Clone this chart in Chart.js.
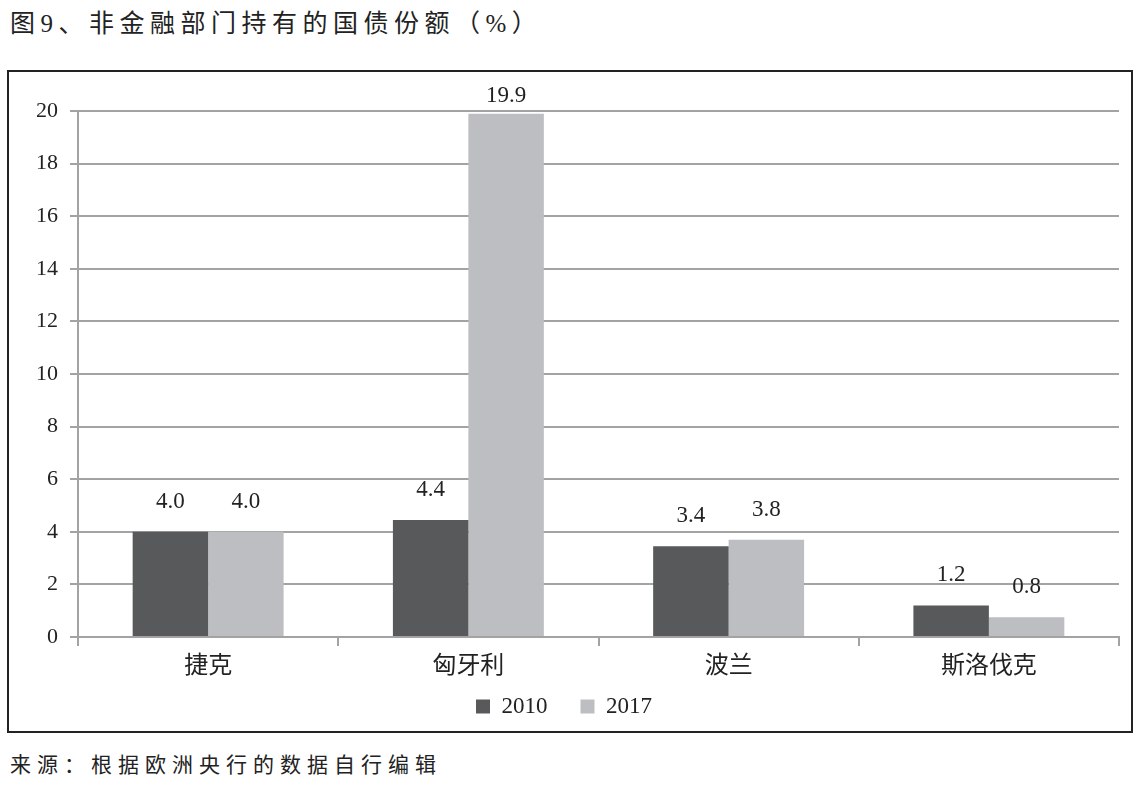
<!DOCTYPE html>
<html>
<head>
<meta charset="utf-8">
<script src="https://cdn.jsdelivr.net/npm/chart.js@4"></script>
<style>
  body { margin: 0; background: #fff; width: 1136px; height: 786px; position: relative;
         font-family: "Liberation Serif", "Noto Sans CJK SC", serif; color: #222; }
  #title { position: absolute; left: 10px; top: 3px; font-size: 25px; letter-spacing: 5.5px; }
  #box { position: absolute; left: 7px; top: 70px; width: 1122px; height: 659px; border: 2px solid #222; }
  #chart-wrap { position: absolute; left: 0; top: 0; width: 1122px; height: 659px; }
  #source { position: absolute; left: 10px; top: 748px; font-size: 21px; letter-spacing: 6px; }
</style>
</head>
<body>
<div id="title">图9、非金融部门持有的国债份额（%）</div>
<div id="box"><div id="chart-wrap"><canvas id="chart"></canvas></div></div>
<div id="source">来源：根据欧洲央行的数据自行编辑</div>
<script>
const countries = ["捷克", "匈牙利", "波兰", "斯洛伐克"];
const values2010 = [4.0, 4.45, 3.45, 1.2];
const values2017 = [4.0, 19.9, 3.7, 0.75];
const labels2010 = ["4.0", "4.4", "3.4", "1.2"];
const labels2017 = ["4.0", "19.9", "3.8", "0.8"];
const yTicks = [0, 2, 4, 6, 8, 10, 12, 14, 16, 18, 20];

const fontFamily = '"Liberation Serif", "Noto Sans CJK SC", serif';
const gridColor = "#a3a3a3";

const barLabels = {
    id: "barLabels",
    afterDatasetsDraw(chart) {
        const ctx = chart.ctx;
        const texts = [labels2010, labels2017];
        ctx.save();
        ctx.font = "23px " + fontFamily;
        ctx.fillStyle = "#222";
        ctx.textAlign = "center";
        ctx.textBaseline = "middle";
        chart.data.datasets.forEach((ds, di) => {
            const meta = chart.getDatasetMeta(di);
            meta.data.forEach((bar, i) => {
                const y = Math.max(bar.y - 30, chart.chartArea.top - 15);
                ctx.fillText(texts[di][i], bar.x, y);
            });
        });
        ctx.restore();
    }
};

const chart = new Chart(document.getElementById("chart"), {
    type: "bar",
    data: {
        labels: countries,
        datasets: [
            { label: "2010", data: values2010, backgroundColor: "#58595b" },
            { label: "2017", data: values2017, backgroundColor: "#bdbec1" }
        ]
    },
    options: {
        responsive: true,
        maintainAspectRatio: false,
        animation: false,
        devicePixelRatio: 1,
        datasets: { bar: { categoryPercentage: 0.58, barPercentage: 1.0 } },
        layout: { padding: { top: 39, right: 12, bottom: 3, left: 0 } },
        scales: {
            x: {
                grid: { drawOnChartArea: false, color: gridColor, lineWidth: 2, tickLength: 9, offset: true },
                border: { color: gridColor, width: 2 },
                ticks: { color: "#222", font: { size: 24, family: fontFamily }, padding: 6 },
                afterFit: (scale) => { scale.height = 48; }
            },
            y: {
                min: 0,
                max: 20,
                afterBuildTicks: (scale) => { scale.ticks = yTicks.map(v => ({ value: v })); },
                grid: { color: gridColor, lineWidth: 2, tickLength: 8 },
                border: { color: gridColor, width: 2 },
                ticks: { color: "#222", font: { size: 22, family: fontFamily }, padding: 12 },
                afterFit: (scale) => { scale.width = 69; }
            }
        },
        plugins: {
            legend: {
                position: "bottom",
                labels: {
                    color: "#222",
                    font: { size: 23, family: fontFamily },
                    boxWidth: 14,
                    boxHeight: 14,
                    padding: 10,
                    generateLabels: (chart) => {
                        const items = Chart.defaults.plugins.legend.labels.generateLabels(chart);
                        items[0].text = items[0].text + "    ";
                        return items;
                    }
                }
            },
            tooltip: { enabled: false }
        }
    },
    plugins: [barLabels]
});
</script>
</body>
</html>
